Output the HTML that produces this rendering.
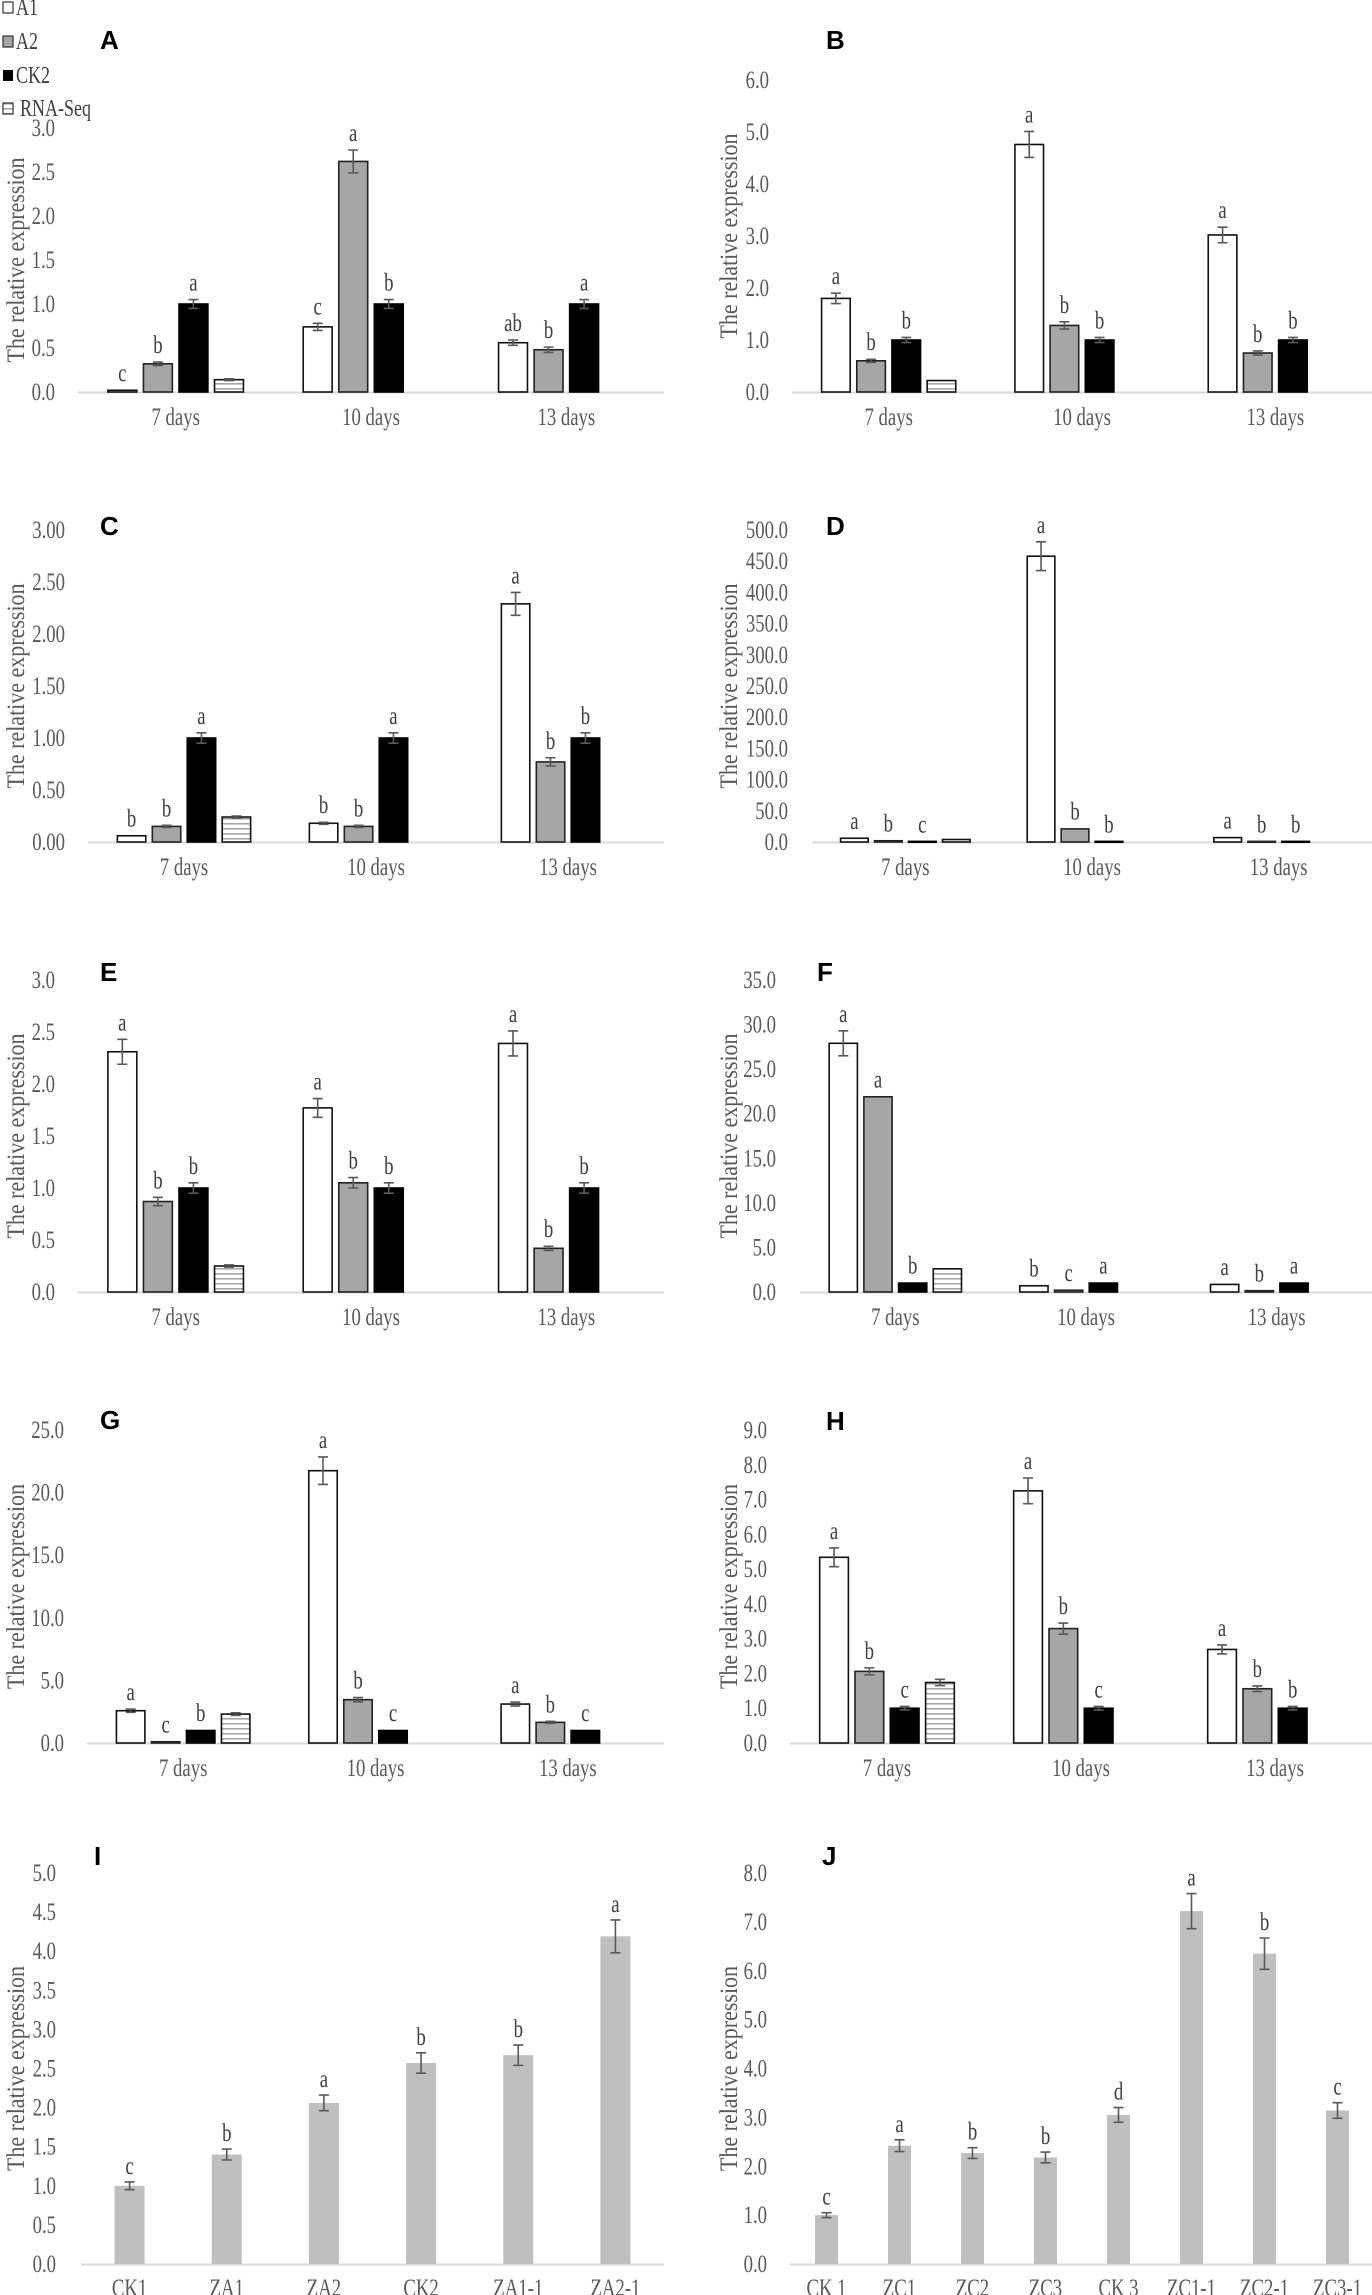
<!DOCTYPE html>
<html><head><meta charset="utf-8">
<style>
html,body{margin:0;padding:0;background:#fff;}
svg{display:block;}
text{font-family:"Liberation Serif",serif;}
.tick{fill:#595959;font-size:25px;}
.cat{fill:#595959;font-size:25px;}
.ttl{fill:#595959;font-size:22px;}
.sig{fill:#404040;font-size:25px;}
.lett{font-family:"Liberation Sans",sans-serif;font-weight:bold;font-size:26px;fill:#000;}
.leg{fill:#404040;font-size:24px;}
</style></head>
<body>
<svg id="fig" width="1372" height="2295" viewBox="0 0 1372 2295" xmlns="http://www.w3.org/2000/svg">
<defs>
<pattern id="stripe" patternUnits="userSpaceOnUse" width="8" height="5">
<rect width="8" height="5" fill="#fff"/><rect y="3" width="8" height="1.6" fill="#a6a6a6"/>
</pattern>
</defs>
<g>
<rect x="3" y="2" width="10" height="11" fill="#fff" stroke="#333" stroke-width="1.2"/>
<text class="leg" transform="translate(16,15) scale(0.75,1)">A1</text>
<rect x="3" y="36" width="10" height="11" fill="#a6a6a6" stroke="#333" stroke-width="1.2"/>
<text class="leg" transform="translate(16,49) scale(0.75,1)">A2</text>
<rect x="3" y="70" width="10" height="11" fill="#000"/>
<text class="leg" transform="translate(16,83) scale(0.75,1)">CK2</text>
<rect x="3" y="103" width="10" height="11" fill="url(#stripe)" stroke="#333" stroke-width="1.2"/>
<text class="leg" transform="translate(20,116) scale(0.75,1)">RNA-Seq</text>
</g>
</svg>
<script>
const days = ["7 days","10 days","13 days"];
// Panel A
const A_A1=[0.02,0.74,0.56], A_A1e=[0.005,0.04,0.03], A_A1s=["c","c","ab"];
const A_A2=[0.32,2.62,0.48], A_A2e=[0.02,0.13,0.03], A_A2s=["b","a","b"];
const A_CK=[1,1,1], A_CKe=[0.05,0.05,0.05], A_CKs=["a","b","a"];
const A_RNA=[0.14], A_RNAe=[0.01];
const A_ticks=["0.0","0.5","1.0","1.5","2.0","2.5","3.0"];
// Panel B
const B_A1=[1.8,4.76,3.02], B_A1e=[0.1,0.25,0.15], B_A1s=["a","a","a"];
const B_A2=[0.6,1.28,0.75], B_A2e=[0.03,0.07,0.04], B_A2s=["b","b","b"];
const B_CK=[1,1,1], B_CKe=[0.05,0.05,0.05], B_CKs=["b","b","b"];
const B_RNA=[0.22], B_RNAe=[0.01];
const B_ticks=["0.0","1.0","2.0","3.0","4.0","5.0","6.0"];
// Panel C
const C_A1=[0.06,0.18,2.29], C_A1e=[0.004,0.01,0.11], C_A1s=["b","b","a"];
const C_A2=[0.15,0.15,0.77], C_A2e=[0.01,0.01,0.04], C_A2s=["b","b","b"];
const C_CK=[1,1,1], C_CKe=[0.05,0.05,0.05], C_CKs=["a","a","b"];
const C_RNA=[0.24], C_RNAe=[0.01];
const C_ticks=["0.00","0.50","1.00","1.50","2.00","2.50","3.00"];
// Panel D
const D_A1=[6,458,7], D_A1e=[0.3,23,0.3], D_A1s=["a","a","a"];
const D_A2=[2,21,1], D_A2e=[0.1,1,0.05], D_A2s=["b","b","b"];
const D_CK=[1,1,1], D_CKe=[0.05,0.05,0.05], D_CKs=["c","b","b"];
const D_RNA=[4], D_RNAe=[0.2];
const D_ticks=["0.0","50.0","100.0","150.0","200.0","250.0","300.0","350.0","400.0","450.0","500.0"];
// Panel E
const E_A1=[2.31,1.77,2.39], E_A1e=[0.12,0.09,0.12], E_A1s=["a","a","a"];
const E_A2=[0.87,1.05,0.42], E_A2e=[0.04,0.05,0.02], E_A2s=["b","b","b"];
const E_CK=[1,1,1], E_CKe=[0.05,0.05,0.05], E_CKs=["b","b","b"];
const E_RNA=[0.25], E_RNAe=[0.01];
const E_ticks=["0.0","0.5","1.0","1.5","2.0","2.5","3.0"];
// Panel F
const F_A1=[27.9,0.7,0.85], F_A1e=[1.4,0.03,0.04], F_A1s=["a","b","a"];
const F_A2=[21.9,0.2,0.15], F_A2e=[0.05,0.01,0.01], F_A2s=["a","c","b"];
const F_CK=[1,1,1], F_CKe=[0.05,0.05,0.05], F_CKs=["b","a","a"];
const F_RNA=[2.6], F_RNAe=[0.05];
const F_ticks=["0.0","5.0","10.0","15.0","20.0","25.0","30.0","35.0"];
// Panel G
const G_A1=[2.58,21.75,3.11], G_A1e=[0.13,1.1,0.16], G_A1s=["a","a","a"];
const G_A2=[0.1,3.46,1.65], G_A2e=[0.01,0.17,0.08], G_A2s=["c","b","b"];
const G_CK=[1,1,1], G_CKe=[0.05,0.05,0.05], G_CKs=["b","c","c"];
const G_RNA=[2.31], G_RNAe=[0.1];
const G_ticks=["0.0","5.0","10.0","15.0","20.0","25.0"];
// Panel H
const H_A1=[5.34,7.25,2.69], H_A1e=[0.27,0.37,0.13], H_A1s=["a","a","a"];
const H_A2=[2.06,3.29,1.56], H_A2e=[0.1,0.16,0.08], H_A2s=["b","b","b"];
const H_CK=[1,1,1], H_CKe=[0.05,0.05,0.05], H_CKs=["c","c","b"];
const H_RNA=[1.74], H_RNAe=[0.09];
const H_ticks=["0.0","1.0","2.0","3.0","4.0","5.0","6.0","7.0","8.0","9.0"];
// Panel I
const I_cats=["CK1","ZA1","ZA2","CK2","ZA1-1","ZA2-1"];
const I_vals=[1.0,1.4,2.06,2.57,2.67,4.19];
const I_errs=[0.05,0.07,0.1,0.13,0.13,0.21];
const I_sig=["c","b","a","b","b","a"];
const I_ticks=["0.0","0.5","1.0","1.5","2.0","2.5","3.0","3.5","4.0","4.5","5.0"];
// Panel J
const J_cats=["CK 1","ZC1","ZC2","ZC3","CK 3","ZC1-1","ZC2-1","ZC3-1"];
const J_vals=[1.0,2.42,2.27,2.18,3.05,7.22,6.35,3.14];
const J_errs=[0.05,0.12,0.11,0.11,0.15,0.36,0.32,0.16];
const J_sig=["c","a","b","b","d","a","b","c"];
const J_ticks=["0.0","1.0","2.0","3.0","4.0","5.0","6.0","7.0","8.0"];

const NS="http://www.w3.org/2000/svg";
const svg=document.getElementById('fig');
const SX=0.75;
function mk(tag,attrs,parent){const e=document.createElementNS(NS,tag);for(const k in attrs)e.setAttribute(k,attrs[k]);(parent||svg).appendChild(e);return e;}
function ntext(cls,x,y,anchor,parent){return mk('text',{class:cls,x:0,y:0,'text-anchor':anchor,transform:`translate(${x},${y}) scale(${SX},1)`},parent);}

const grouped=[
 {id:"A",x0:78,x1:664,y0:392,yT:128,max:3,tr:55,tx:15,lx:100,ly:40,s:[A_A1,A_A2,A_CK,A_RNA],e:[A_A1e,A_A2e,A_CKe,A_RNAe],g:[A_A1s,A_A2s,A_CKs],t:A_ticks},
 {id:"B",x0:792,x1:1372,y0:392,yT:80,max:6,tr:769,tx:728,lx:826,ly:40,s:[B_A1,B_A2,B_CK,B_RNA],e:[B_A1e,B_A2e,B_CKe,B_RNAe],g:[B_A1s,B_A2s,B_CKs],t:B_ticks},
 {id:"C",x0:88,x1:664,y0:842,yT:530,max:3,tr:65,tx:15,lx:100,ly:526,s:[C_A1,C_A2,C_CK,C_RNA],e:[C_A1e,C_A2e,C_CKe,C_RNAe],g:[C_A1s,C_A2s,C_CKs],t:C_ticks},
 {id:"D",x0:812,x1:1372,y0:842,yT:530,max:500,tr:788,tx:728,lx:826,ly:526,s:[D_A1,D_A2,D_CK,D_RNA],e:[D_A1e,D_A2e,D_CKe,D_RNAe],g:[D_A1s,D_A2s,D_CKs],t:D_ticks},
 {id:"E",x0:78,x1:664,y0:1292,yT:980,max:3,tr:55,tx:15,lx:100,ly:972,s:[E_A1,E_A2,E_CK,E_RNA],e:[E_A1e,E_A2e,E_CKe,E_RNAe],g:[E_A1s,E_A2s,E_CKs],t:E_ticks},
 {id:"F",x0:800,x1:1372,y0:1292,yT:980,max:35,tr:776,tx:728,lx:817,ly:972,s:[F_A1,F_A2,F_CK,F_RNA],e:[F_A1e,F_A2e,F_CKe,F_RNAe],g:[F_A1s,F_A2s,F_CKs],t:F_ticks},
 {id:"G",x0:87,x1:664,y0:1743,yT:1430,max:25,tr:64,tx:15,lx:100,ly:1420,s:[G_A1,G_A2,G_CK,G_RNA],e:[G_A1e,G_A2e,G_CKe,G_RNAe],g:[G_A1s,G_A2s,G_CKs],t:G_ticks},
 {id:"H",x0:790,x1:1372,y0:1743,yT:1430,max:9,tr:767,tx:728,lx:826,ly:1421,s:[H_A1,H_A2,H_CK,H_RNA],e:[H_A1e,H_A2e,H_CKe,H_RNAe],g:[H_A1s,H_A2s,H_CKs],t:H_ticks}
];
const fills=["#fff","#a6a6a6","#000","url(#stripe)"];
const strokes=["#111","#222","#000","#111"];
const snames=["a1","a2","ck2","rnaseq"];

function axisCommon(p,g){
  const yS=v=>p.y0-(v/p.max)*(p.y0-p.yT);
  const n=p.t.length;
  p.t.forEach((lab,i)=>{
    const v=p.max*i/(n-1);
    const t=ntext('tick',p.tr,yS(v)+8,'end',g);
    
    
    t.textContent=lab;
  });
  const ln=mk('line',{x1:p.x0,x2:p.x1,y1:p.y0+0.5,y2:p.y0+0.5,stroke:'#d9d9d9','stroke-width':2},g);
  
  
  const cy=(p.y0+p.yT)/2;
  const tt=mk('text',{class:'ttl',x:0,y:0,'text-anchor':'middle',transform:`translate(${p.tx},${cy}) rotate(-90) scale(1,1.15)`,dy:'0.35em'},g);
  
  
  tt.textContent="The relative expression";
  const L=mk('text',{class:'lett',x:p.lx,y:p.ly+9},g);
  
  
  L.textContent=p.id;
  return yS;
}
function errBar(g,cx,yTop,yBot){
  const eb=mk('path',{d:`M${cx-5},${yTop}H${cx+5}M${cx},${yTop}V${yBot}M${cx-5},${yBot}H${cx+5}`,stroke:'#595959','stroke-width':1.6,fill:'none'},g);
  
  
}
function sigText(g,cx,y,s){
  const t=ntext('sig',cx,y,'middle',g);
  
  
  t.textContent=s;
}

grouped.forEach(p=>{
  const g=mk('g',{});
  
  
  const yS=axisCommon(p,g);
  const sp=(p.x1-p.x0)/3;
  const usedSp=Math.min(sp,196);
  const bw=0.148*usedSp, step=0.182*usedSp;
  days.forEach((d,ci)=>{
    const c=p.x0+sp*(ci+0.5);
    const cl=ntext('cat',c,p.y0+33,'middle',g);
    
    
    cl.textContent=d;
    p.s.forEach((ser,si)=>{
      if(ci>=ser.length)return;
      const v=ser[ci], e=p.e[si][ci];
      const bx=c+(si-1.5)*step;
      const yt=yS(v);
      const r=mk('rect',{x:bx-bw/2,y:yt,width:bw,height:Math.max(p.y0-yt,0.8),fill:fills[si],stroke:strokes[si],'stroke-width':1.6},g);
      
      
      const eT=yS(v+e), eB=yS(v-e);
      if(eB-eT>1.5)errBar(g,bx,eT,eB);
      if(si<3)sigText(g,bx,Math.min(eT,yt)-9,p.g[si][ci]);
    });
  });
});

const simple=[
 {id:"I",x0:81,x1:664,y0:2264,yT:1873,max:5,tr:56,tx:15,lx:94,ly:1856,cats:I_cats,v:I_vals,e:I_errs,sg:I_sig,t:I_ticks,bw:30},
 {id:"J",x0:790,x1:1374,y0:2264,yT:1873,max:8,tr:767,tx:728,lx:822,ly:1856,cats:J_cats,v:J_vals,e:J_errs,sg:J_sig,t:J_ticks,bw:23}
];
simple.forEach(p=>{
  const g=mk('g',{});
  
  
  const yS=axisCommon(p,g);
  const sp=(p.x1-p.x0)/p.cats.length;
  p.cats.forEach((cat,i)=>{
    const c=p.x0+sp*(i+0.5);
    const v=p.v[i], e=p.e[i];
    const yt=yS(v);
    const r=mk('rect',{x:c-p.bw/2,y:yt,width:p.bw,height:p.y0-yt,fill:'#bfbfbf'},g);
    
    
    const eT=yS(v+e), eB=yS(v-e);
    errBar(g,c,eT,eB);
    sigText(g,c,eT-8,p.sg[i]);
    const cl=ntext('cat',c,p.y0+32,'middle',g);
    
    
    cl.textContent=cat;
  });
});
</script>
</body></html>
